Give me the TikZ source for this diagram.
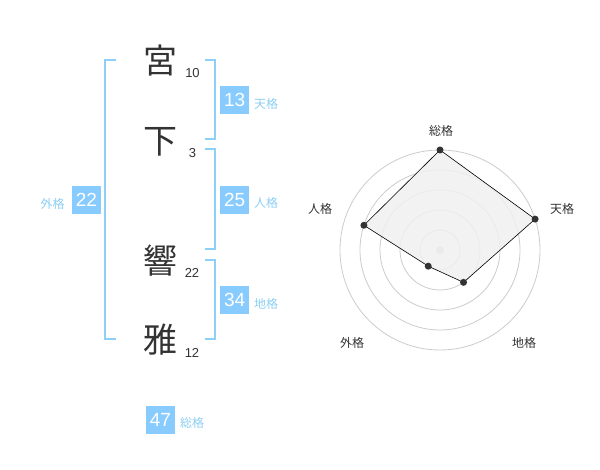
\documentclass[tikz,border=0pt]{standalone}
\usepackage{fontspec}
\usetikzlibrary{calc}
\setmainfont{Liberation Sans}
\newfontfamily\cjk{Noto Sans CJK JP}
\definecolor{brk}{HTML}{8CCFF8}
\definecolor{boxc}{HTML}{88CCFF}
\definecolor{lblc}{HTML}{8DCFF5}
\definecolor{ink}{HTML}{333333}
\definecolor{ring}{HTML}{CCCCCC}
\definecolor{polyfill}{HTML}{F0F0F0}
\tikzset{
  kanji/.style={inner sep=0pt, text=ink, font=\cjk\fontsize{34}{34}\selectfont},
  strokes/.style={inner sep=0pt, text=ink, font=\fontsize{13}{13}\selectfont},
  valbox/.style={fill=boxc, text=white, minimum width=29pt, minimum height=28pt, inner sep=0pt, font=\fontsize{19}{19}\selectfont},
  kaku/.style={inner sep=0pt, text=lblc, font=\cjk\fontsize{12}{12}\selectfont},
  bracket/.style={draw=brk, line width=2pt},
  axislbl/.style={inner sep=0pt, text=ink, font=\cjk\fontsize{12}{12}\selectfont},
  dot/.style={circle, fill=ink, inner sep=0pt, minimum size=7pt},
}
\begin{document}
\begin{tikzpicture}[x=1pt,y=-1pt]
\useasboundingbox[fill=white] (0,0) rectangle (600,470);
% name characters
\node[kanji] (c1) at (160,61) {宮};
\node[kanji] (c2) at (160,142) {下};
\node[kanji] (c3) at (160,261) {響};
\node[kanji] (c4) at (160,340) {雅};
\node[strokes] (n1) at (192.5,73) {10};
\node[strokes] (n2) at (192.5,153.5) {3};
\node[strokes] (n3) at (192,273) {22};
\node[strokes] (n4) at (192,353) {12};
% brackets
\draw[bracket] (116,60) -- (105,60) -- (105,339.5) -- (116,339.5);
\draw[bracket] (205,60) -- (214.5,60) -- (214.5,139.5) -- (205,139.5);
\draw[bracket] (205,149.5) -- (214.5,149.5) -- (214.5,249.5) -- (205,249.5);
\draw[bracket] (205,260) -- (214.5,260) -- (214.5,339.5) -- (205,339.5);
% values
\node[valbox] (ten) at (234.7,100) {13};
\node[kaku] (tenL) at (266,104) {天格};
\node[valbox] (jin) at (234.7,200) {25};
\node[kaku] (jinL) at (266,203) {人格};
\node[valbox] (gai) at (86.5,200) {22};
\node[kaku] (gaiL) at (52.5,204) {外格};
\node[valbox] (chi) at (234.7,300) {34};
\node[kaku] (chiL) at (266,304) {地格};
\node[valbox] (sou) at (160.5,419.5) {47};
\node[kaku] (souL) at (192,423) {総格};
% radar
\coordinate (O) at (440,250);
\foreach \r in {20,40,60,80,100} \draw[ring, line width=0.8pt] (O) circle (\r);
\fill[ring] (O) circle (4);
\coordinate (pS) at ($(O)+(0,-100)$);
\coordinate (pT) at ($(O)+({100*cos(18)},{-100*sin(18)})$);
\coordinate (pC) at ($(O)+({40*cos(54)},{40*sin(54)})$);
\coordinate (pG) at ($(O)+({-20*cos(54)},{20*sin(54)})$);
\coordinate (pJ) at ($(O)+({-80*cos(18)},{-80*sin(18)})$);
\draw[fill=polyfill, fill opacity=0.85, draw=black, line width=0.6pt] (pS) -- (pT) -- (pC) -- (pG) -- (pJ) -- cycle;
\foreach \p in {pS,pT,pC,pG,pJ} \node[dot] at (\p) {};
\node[axislbl] (aS) at (441,131) {総格};
\node[axislbl] (aT) at (562,209) {天格};
\node[axislbl] (aJ) at (320,209) {人格};
\node[axislbl] (aG) at (352,342.5) {外格};
\node[axislbl] (aC) at (524,342.5) {地格};
\end{tikzpicture}
\end{document}
